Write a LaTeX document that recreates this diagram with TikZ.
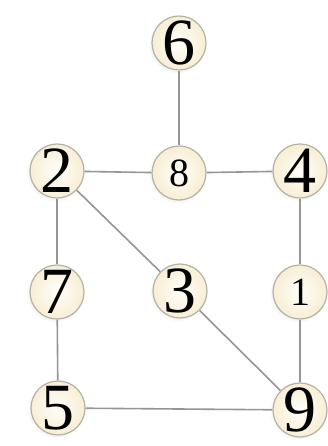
\documentclass[tikz,border=0pt]{standalone}
\usepackage{fontspec}
\setmainfont{Liberation Serif}
\usetikzlibrary{shadows}
\definecolor{ringc}{RGB}{180,178,168}
\definecolor{edgec}{RGB}{150,150,150}
\definecolor{fillin}{RGB}{255,254,250}
\definecolor{fillout}{RGB}{248,238,212}
\tikzset{
  vtx/.style={circle, draw=ringc, line width=1.2pt, minimum size=54pt, inner sep=0pt,
    inner color=fillin, outer color=fillout,
    circular drop shadow={opacity=0.10, shadow xshift=-1.5pt, shadow yshift=-1.5pt, shadow scale=1.08}},
  big/.style={font=\fontsize{66}{66}\selectfont, inner sep=0pt},
  small/.style={font=\fontsize{40}{40}\selectfont, inner sep=0pt},
  conn/.style={draw=edgec, line width=1.6pt}
}
\begin{document}
\begin{tikzpicture}[x=1pt,y=1pt]
\useasboundingbox (0,0) rectangle (328,-446);
\fill[white] (0,0) rectangle (328,-446);
\node[vtx] (n6) at (179,-43) {};
\node[vtx] (n2) at (57,-171) {};
\node[vtx] (n8) at (179,-173) {};
\node[vtx] (n4) at (300,-171) {};
\node[vtx] (n7) at (57,-292) {};
\node[vtx] (n3) at (180,-291) {};
\node[vtx] (n1) at (300,-292) {};
\node[vtx] (n5) at (58,-408) {};
\node[vtx] (n9) at (300,-410) {};
\node[big] (t6) at (n6) {6};
\node[big] (t2) at (n2) {2};
\node[small] (t8) at (n8) {8};
\node[big] (t4) at (n4) {4};
\node[big] (t7) at (n7) {7};
\node[big] (t3) at (n3) {3};
\node[small] (t1) at (n1) {1};
\node[big] (t5) at (n5) {5};
\node[big] (t9) at (n9) {9};
\draw[conn] (n6) -- (n8);
\draw[conn] (n2) -- (n8);
\draw[conn] (n8) -- (n4);
\draw[conn] (n2) -- (n7);
\draw[conn] (n7) -- (n5);
\draw[conn] (n2) -- (n3);
\draw[conn] (n3) -- (n9);
\draw[conn] (n4) -- (n1);
\draw[conn] (n1) -- (n9);
\draw[conn] (n5) -- (n9);
\end{tikzpicture}
\end{document}
